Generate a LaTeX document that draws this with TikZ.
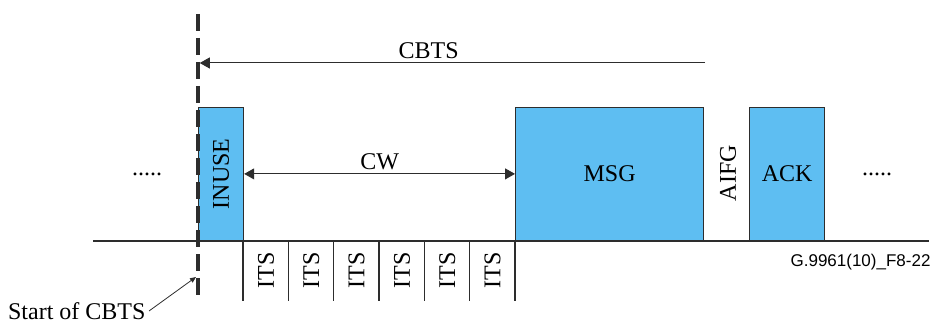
\documentclass[tikz,border=0pt]{standalone}
\usepackage{fontspec}
\setmainfont{Liberation Serif}
\newfontfamily\figsans{Liberation Sans}
\usetikzlibrary{arrows.meta}
\definecolor{slotblue}{RGB}{94,190,242}
\definecolor{edgegray}{RGB}{45,45,45}

\begin{document}
\begin{tikzpicture}[x=1pt,y=-1pt,>={Triangle[length=10pt,width=11pt]},
    font=\fontsize{24}{28}\selectfont,
    slot/.style={draw=edgegray,fill=slotblue,line width=1.2pt,minimum height=133pt,inner sep=0pt,anchor=south west},
    vlabel/.style={rotate=90}]
  \useasboundingbox (0,0) rectangle (936,323);
  %% Medium line
  \coordinate (t0) at (93,241);
  \coordinate (t1) at (929,241);
  \draw[line width=1.2pt,edgegray] (t0) -- (t1);
  %% Frames
  \node[slot,minimum width=45pt,label={[vlabel]center:INUSE}] (inuse) at (198,241) {};
  \node[slot,minimum width=188pt] (msg) at (515,241) {MSG};
  \node[slot,minimum width=75pt] (ack) at (749,241) {ACK};
  \node[vlabel] (aifg) at (728,173) {AIFG};
  \node (dots1) at (147,174) {.....};
  \node (dots2) at (877,174) {.....};
  %% Idle time slots
  \foreach \i in {0,...,6}
    \draw[line width=1.2pt,edgegray] (243+45.33*\i,241) -- ++(0,60);
  \foreach \i in {0,...,5}
    \node[vlabel] (its\i) at (266+45.33*\i,270) {ITS};
  %% Start of CBTS
  \coordinate (top) at (198,14);
  \coordinate (bot) at (198,301);
  \draw[line width=3.5pt,dash pattern=on 17pt off 7pt,edgegray] (top) -- (bot);
  %% Horizontal arrows
  \coordinate (cbtsend) at (705,63);
  \draw[->,line width=1pt,edgegray,shorten >=1.75pt] (cbtsend) -- node[above=0pt,pos=0.545,black]{CBTS} (top |- cbtsend);
  \draw[<->,line width=1pt,edgegray] (inuse.east) -- node[above=0pt,black]{CW} (msg.west);
  %% Labels
  \node[anchor=east] (start) at (149,311) {Start of CBTS};
  \coordinate (startpt) at (196,277);
  \draw[-{Triangle[length=6pt,width=5pt]},line width=0.8pt,edgegray] (start.east) -- (startpt);
  \node[anchor=east,font=\figsans\fontsize{17}{20}\selectfont] (figid) at (934,262) {G.9961(10)\_F8-22};
\end{tikzpicture}
\end{document}
